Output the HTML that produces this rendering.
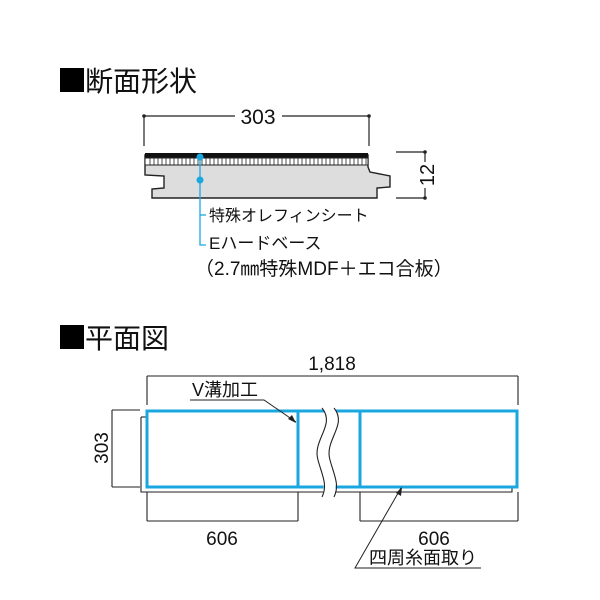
<!DOCTYPE html>
<html><head><meta charset="utf-8"><style>
html,body{margin:0;padding:0;background:#fff;width:600px;height:600px;overflow:hidden}
text{font-family:"Liberation Sans","Noto Sans CJK JP",sans-serif;fill:#111}
</style></head><body>
<svg width="600" height="600" viewBox="0 0 600 600" xmlns="http://www.w3.org/2000/svg">
<rect x="60" y="68" width="24" height="24" fill="#000"/>
<text x="85" y="91" font-size="28">断面形状</text>
<rect x="60" y="325" width="24" height="24" fill="#000"/>
<text x="85" y="348" font-size="28">平面図</text>

<g stroke="#222" stroke-width="1.2" fill="none">
<line x1="144" y1="116" x2="235" y2="116"/><line x1="282" y1="116" x2="369" y2="116"/>
<line x1="144" y1="116" x2="144" y2="146"/><line x1="369" y1="116" x2="369" y2="146"/>
<line x1="396" y1="152" x2="425" y2="152"/><line x1="396" y1="198" x2="425" y2="198"/>
<line x1="425" y1="152" x2="425" y2="162"/><line x1="425" y1="188" x2="425" y2="198"/>
</g>
<circle cx="144" cy="116" r="1.8" fill="#222"/><circle cx="369" cy="116" r="1.8" fill="#222"/>
<circle cx="425" cy="152" r="1.8" fill="#222"/><circle cx="425" cy="198" r="1.8" fill="#222"/>
<text x="258" y="124" font-size="21" text-anchor="middle">303</text>
<text transform="translate(434,175) rotate(-90)" font-size="20" text-anchor="middle">12</text>

<path d="M145 155 L368 155 L368 167 L370 172 L390 176 L390 187 L377 188 L377 198 L152 198 L152 189 L164 188 L164 176 L145 175 Z" fill="#ddd" stroke="#222" stroke-width="1.4"/>
<rect x="145" y="153" width="223" height="5" fill="#111"/>
<rect x="145" y="158" width="223" height="7" fill="#fff" stroke="#222" stroke-width="1"/>
<g stroke="#222" stroke-width="0.8">
<path d="M150 158v7M154 158v7M158 158v7M162 158v7M166 158v7M170 158v7M174 158v7M178 158v7M182 158v7M186 158v7M190 158v7M194 158v7M198 158v7M202 158v7M206 158v7M210 158v7M214 158v7M218 158v7M222 158v7M226 158v7M230 158v7M234 158v7M238 158v7M242 158v7M246 158v7M250 158v7M254 158v7M258 158v7M262 158v7M266 158v7M270 158v7M274 158v7M278 158v7M282 158v7M286 158v7M290 158v7M294 158v7M298 158v7M302 158v7M306 158v7M310 158v7M314 158v7M318 158v7M322 158v7M326 158v7M330 158v7M334 158v7M338 158v7M342 158v7M346 158v7M350 158v7M354 158v7M358 158v7M362 158v7M366 158v7"/>
</g>
<g stroke="#1aa7e0" stroke-width="1.3" fill="none">
<polyline points="200,157 200,245 206,245"/>
<line x1="200" y1="215" x2="206" y2="215"/>
</g>
<circle cx="200" cy="157" r="3.5" fill="#1aa7e0"/><circle cx="200" cy="180" r="3.5" fill="#1aa7e0"/>
<text x="209" y="221" font-size="16">特殊オレフィンシート</text>
<text x="209" y="249" font-size="17">Eハードベース</text>
<text x="195" y="275" font-size="19">（2.7㎜特殊MDF＋エコ合板）</text>

<g stroke="#222" stroke-width="1.1" fill="none">
<line x1="147" y1="376" x2="518" y2="376"/>
<line x1="147" y1="376" x2="147" y2="405"/><line x1="518" y1="376" x2="518" y2="405"/>
<line x1="112" y1="410" x2="140" y2="410"/><line x1="112" y1="487" x2="140" y2="487"/>
<line x1="112" y1="410" x2="112" y2="487"/>
<line x1="147" y1="521" x2="298" y2="521"/><line x1="147" y1="492" x2="147" y2="521"/><line x1="298" y1="492" x2="298" y2="521"/>
<line x1="360" y1="521" x2="518" y2="521"/><line x1="360" y1="492" x2="360" y2="521"/><line x1="518" y1="492" x2="518" y2="521"/>
<path d="M141 417 L141 492 L512 492 L512 487"/>
<path d="M141 417 L147 417"/>
</g>
<g stroke="#1aa7e0" stroke-width="3" fill="none">
<rect x="147" y="411" width="370" height="76"/>
<line x1="298" y1="411" x2="298" y2="487"/>
<line x1="360" y1="411" x2="360" y2="487"/>
</g>
<path d="M322 408 C336 425,312 440,318 460 C322 475,326 485,322 497 L334 497 C338 485,334 475,330 460 C324 440,348 425,334 408 Z" fill="#fff" stroke="none"/>
<path d="M322 408 C336 425,312 440,318 460 C322 475,328 485,322 497" fill="none" stroke="#222" stroke-width="1.1"/>
<path d="M334 408 C348 425,324 440,330 460 C334 475,340 485,334 497" fill="none" stroke="#222" stroke-width="1.1"/>
<text x="332" y="370" font-size="19" text-anchor="middle">1,818</text>
<text transform="translate(108,448) rotate(-90)" font-size="19" text-anchor="middle">303</text>
<text x="222" y="545" font-size="19" text-anchor="middle">606</text>
<text x="434" y="545" font-size="19" text-anchor="middle">606</text>
<text x="192" y="396" font-size="18">V溝加工</text>
<text x="369" y="564" font-size="18">四周糸面取り</text>
<g stroke="#222" stroke-width="1" fill="none">
<polyline points="190,400 264,400 296,422"/>
<polyline points="481,568 355,568 401,488"/>
</g>
<path d="M296 423 L288 419 L292 415 Z" fill="#222"/>
<path d="M402 487 L401 496 L396 493 Z" fill="#222"/>
</svg>
</body></html>
